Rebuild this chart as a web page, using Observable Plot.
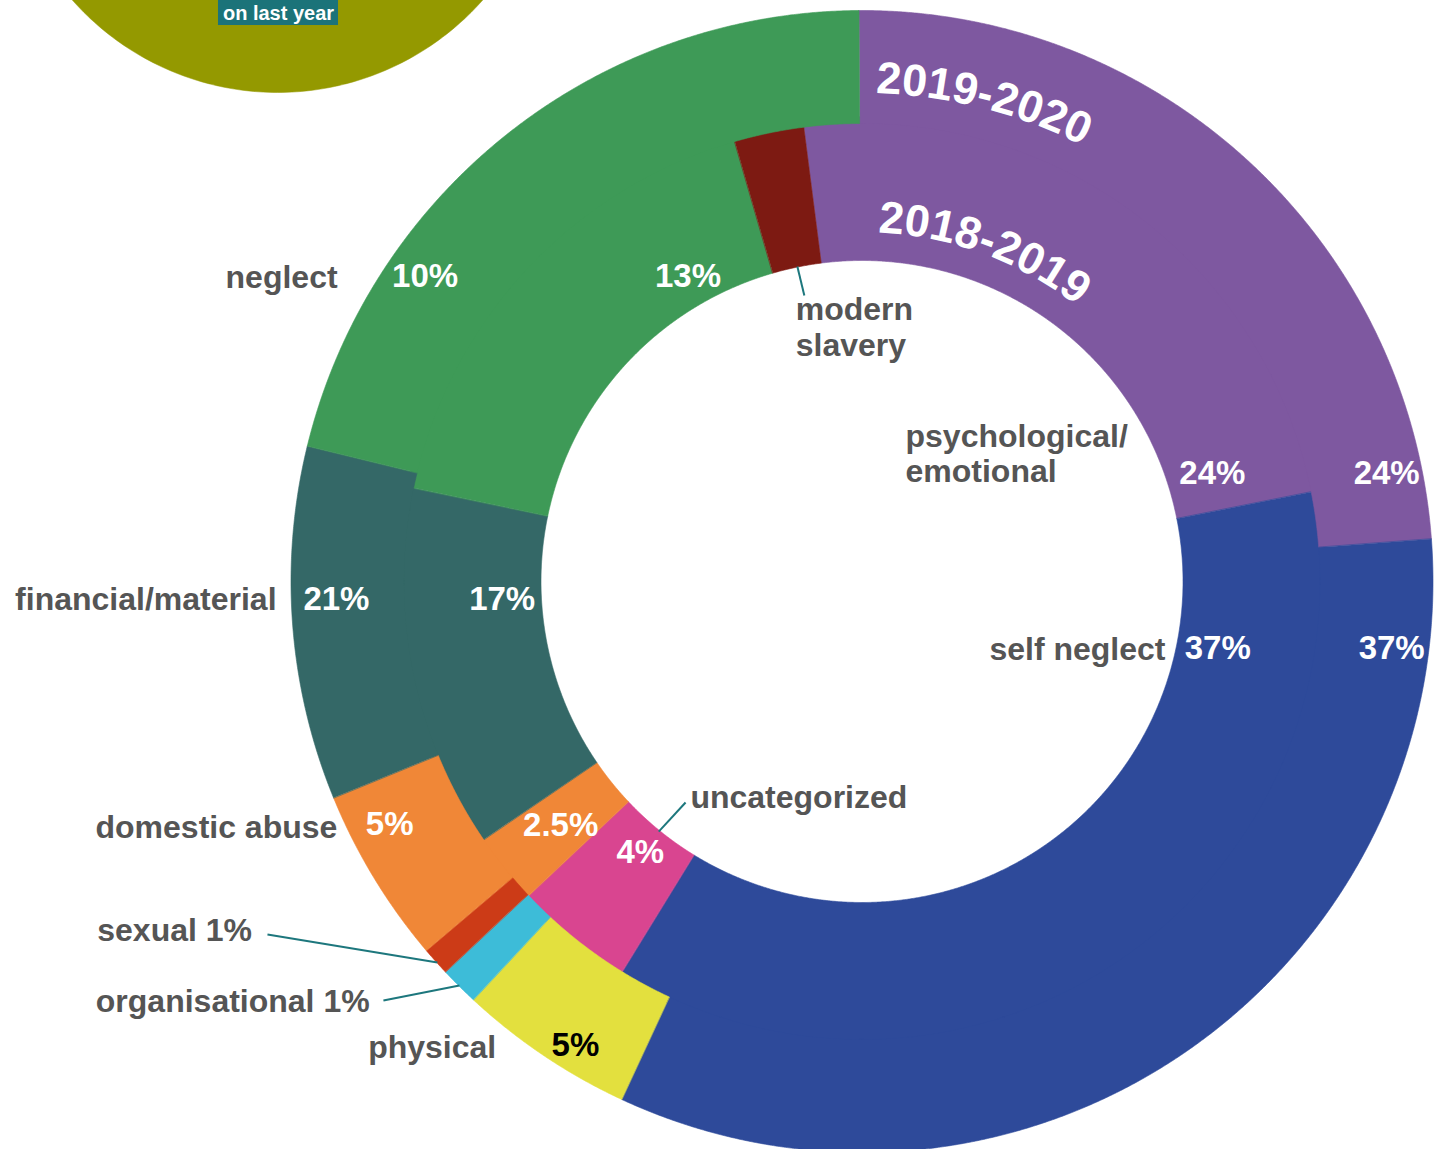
<!DOCTYPE html>
<html>
<head>
<meta charset="utf-8">
<script src="https://cdn.jsdelivr.net/npm/d3@7"></script>
<script src="https://cdn.jsdelivr.net/npm/@observablehq/plot@0.6"></script>
<style>
  html, body { margin: 0; padding: 0; background: #ffffff; overflow: hidden; }
  #chart svg { display: block; }
</style>
</head>
<body>
<div id="chart"></div>
<script>
// ---------------- DATA ----------------
const categories = ["psychological/emotional", "self neglect", "physical", "organisational", "sexual",
  "domestic abuse", "financial/material", "neglect", "modern slavery", "uncategorized"];
const palette = ["#7e58a0", "#2e4a9a", "#e3e03e", "#3dbcd8", "#cc3b17",
  "#f08737", "#346867", "#3e9a57", "#7d1a12", "#d94590"];

// outer ring: 2019-2020
const outerCategories = ["psychological/emotional", "self neglect", "physical", "organisational", "sexual",
  "domestic abuse", "financial/material", "neglect"];
const outerValues = [23.9, 33.1, 5.0, 1.1, 0.8, 5.0, 10.0, 21.1];

// inner ring: 2018-2019
const innerCategories = ["psychological/emotional", "self neglect", "uncategorized", "domestic abuse",
  "financial/material", "neglect", "modern slavery"];
const innerValues = [23.9, 36.9, 4.2, 2.5, 12.8, 17.25, 2.45];

const ringNames = ["2019-2020", "2018-2019"];

const pctLabels = ["24%", "37%", "24%", "37%", "5%", "4%", "2.5%", "5%", "21%", "17%", "10%", "13%"];
const categoryLabels = ["neglect", "financial/material", "domestic abuse", "sexual 1%", "organisational 1%",
  "physical", "uncategorized", "modern\nslavery", "psychological/\nemotional", "self neglect"];
const noteText = "on last year";

// ---------------- LAYOUT (positions / sizes / styles) ----------------
const W = 1445, H = 1149;
const CX = 861.5, CY = 581, RPX = 571;          // pie centre & outer radius in px
const RING = {hole: 321 / 571, mid: 458 / 571, outer: 1};
const START = {outer: -0.3, inner: -7.3};       // degrees clockwise from 12 o'clock
const FONT = '"Liberation Sans", Arial, Helvetica, sans-serif';
const GREY = "#555555";
const TEAL = "#1d777d";

// percent label placement [angle, radius]
const pctPos = [[78.4, 0.938], [97.2, 0.935], [72.9, 0.642], [100.7, 0.634], [211.7, 0.955], [219.3, 0.613],
  [231.0, 0.679], [242.8, 0.930], [268.0, 0.921], [267.1, 0.631], [304.9, 0.933], [330.3, 0.615]];
const pctDark = [false, false, false, false, true, false, false, false, false, false, false, false];
// category label placement [angle, radius, anchor]
const catPos = [[300.2, 1.0626, "end"], [268.3, 1.0258, "end"], [245.0, 1.0138, "end"], [245.5, 1.4718, "start"],
  [241.3, 1.5298, "start"], [218.2, 1.0358, "end"], [218.6, 0.4816, "start"], [345.4, 0.4607, "start"],
  [18.7, 0.2376, "start"], [102.45, 0.5443, "end"]];
// leader lines [[a1,r1],[a2,r2]]
const leaders = [[[348.4, 0.563], [348.6, 0.511]], [[219.1, 0.5645], [218.6, 0.4953]],
  [[228.1, 0.999], [239.3, 1.2109]], [[224.9, 0.9988], [228.8, 1.1139]]];
// curved ring titles: baseline radius and start angle
const ringTitleArc = [{r: 488 / 571, start: 1.6}, {r: 349 / 571, start: 2.6}];
const TITLE_SIZE = 45, LABEL_SIZE = 32, PCT_SIZE = 33;
// olive bubble at top-left (unit coords) and its note
const bubble = {x: -1.0236, y: 1.3363, r: 0.4799};
const note = {x: -1.0219, y: 0.9954, x1: -1.1270, x2: -0.9168, y1: 1.035, y2: 0.9737};

// ---------------- GEOMETRY ----------------
const rad = d => d * Math.PI / 180;
const pol = (a, r) => ({x: r * Math.sin(rad(a)), y: r * Math.cos(rad(a))});

function ringSegments(ring, cats, vals, start, r0, r1) {
  const total = d3.sum(vals);
  let a = start;
  return cats.map((c, i) => {
    const span = vals[i] / total * 360;
    const s = {ring, cat: c, a0: a, a1: a + span, r0, r1};
    a += span;
    return s;
  });
}
function arcPolygon(id, s) {
  const pts = [];
  const n = Math.max(2, Math.ceil((s.a1 - s.a0) / 0.2));
  for (let i = 0; i <= n; i++) {
    const p = pol(s.a0 + (s.a1 - s.a0) * i / n, s.r1);
    pts.push({id, cat: s.cat, x: p.x, y: p.y});
  }
  for (let i = n; i >= 0; i--) {
    const p = pol(s.a0 + (s.a1 - s.a0) * i / n, s.r0);
    pts.push({id, cat: s.cat, x: p.x, y: p.y});
  }
  return pts;
}

// inner ring is drawn first and tucked slightly under the outer ring to avoid seams
const innerSegs = ringSegments("inner", innerCategories, innerValues, START.inner, RING.hole, RING.mid + 0.012);
const outerSegs = ringSegments("outer", outerCategories, outerValues, START.outer, RING.mid, RING.outer);
const innerPts = innerSegs.flatMap((s, i) => arcPolygon("i" + i, s));
const outerPts = outerSegs.flatMap((s, i) => arcPolygon("o" + i, s));

const bubblePts = d3.range(0, 361, 1).map(a => ({x: bubble.x + bubble.r * Math.sin(rad(a)), y: bubble.y + bubble.r * Math.cos(rad(a))}));

const pctData = pctLabels.map((t, i) => ({text: t, dark: pctDark[i], ...pol(pctPos[i][0], pctPos[i][1])}));
const catData = categoryLabels.map((t, i) => ({text: t, anchor: catPos[i][2], ...pol(catPos[i][0], catPos[i][1])}));
const leaderData = leaders.map(([p, q]) => {
  const a = pol(p[0], p[1]), b = pol(q[0], q[1]);
  return {x1: a.x, y1: a.y, x2: b.x, y2: b.y};
});

// curved titles, one glyph at a time
const ctx = document.createElement("canvas").getContext("2d");
ctx.font = `bold ${TITLE_SIZE}px ${FONT}`;
const titleChars = [];
ringNames.forEach((name, k) => {
  const {r, start} = ringTitleArc[k];
  const rb = r * RPX;                               // baseline radius in px
  const rm = (rb + 0.33 * TITLE_SIZE) / RPX;        // glyph middle radius
  let cum = 0;
  for (const ch of name) {
    const w = ctx.measureText(ch).width || TITLE_SIZE * 0.556;
    const a = start + (cum + w / 2) / rb * 180 / Math.PI;
    titleChars.push({ch, rot: a, ...pol(a, rm)});
    cum += w;
  }
});

// ---------------- PLOT ----------------
const chart = Plot.plot({
  width: W,
  height: H,
  margin: 0,
  style: {background: "#ffffff", fontFamily: FONT},
  x: {domain: [-CX / RPX, (W - CX) / RPX], axis: null},
  y: {domain: [-(H - CY) / RPX, CY / RPX], axis: null},
  color: {domain: categories, range: palette},
  marks: [
    Plot.line(bubblePts, {x: "x", y: "y", fill: "#949900", stroke: "#949900", strokeWidth: 0.5, curve: "linear-closed"}),
    Plot.rect([note], {x1: "x1", x2: "x2", y1: "y1", y2: "y2", fill: "#1b7379"}),
    Plot.text([note], {x: "x", y: "y", text: () => noteText, fill: "white", fontSize: 20, fontWeight: "bold"}),
    Plot.line(innerPts, {x: "x", y: "y", z: "id", fill: "cat", stroke: "cat", strokeWidth: 0.6, curve: "linear-closed"}),
    Plot.line(outerPts, {x: "x", y: "y", z: "id", fill: "cat", stroke: "cat", strokeWidth: 0.6, curve: "linear-closed"}),
    Plot.link(leaderData, {x1: "x1", y1: "y1", x2: "x2", y2: "y2", stroke: TEAL, strokeWidth: 2}),
    Plot.text(pctData.filter(d => !d.dark), {x: "x", y: "y", text: "text", fill: "white", fontSize: PCT_SIZE, fontWeight: "bold"}),
    Plot.text(pctData.filter(d => d.dark), {x: "x", y: "y", text: "text", fill: "black", fontSize: PCT_SIZE, fontWeight: "bold"}),
    Plot.text(catData.filter(d => d.anchor === "end"), {x: "x", y: "y", text: "text", fill: GREY, fontSize: LABEL_SIZE, fontWeight: "bold", textAnchor: "end", lineHeight: 1.12}),
    Plot.text(catData.filter(d => d.anchor === "start"), {x: "x", y: "y", text: "text", fill: GREY, fontSize: LABEL_SIZE, fontWeight: "bold", textAnchor: "start", lineHeight: 1.12}),
    Plot.text(titleChars, {x: "x", y: "y", text: "ch", rotate: "rot", fill: "white", fontSize: TITLE_SIZE, fontWeight: "bold"})
  ]
});
document.getElementById("chart").append(chart);
</script>
</body>
</html>
